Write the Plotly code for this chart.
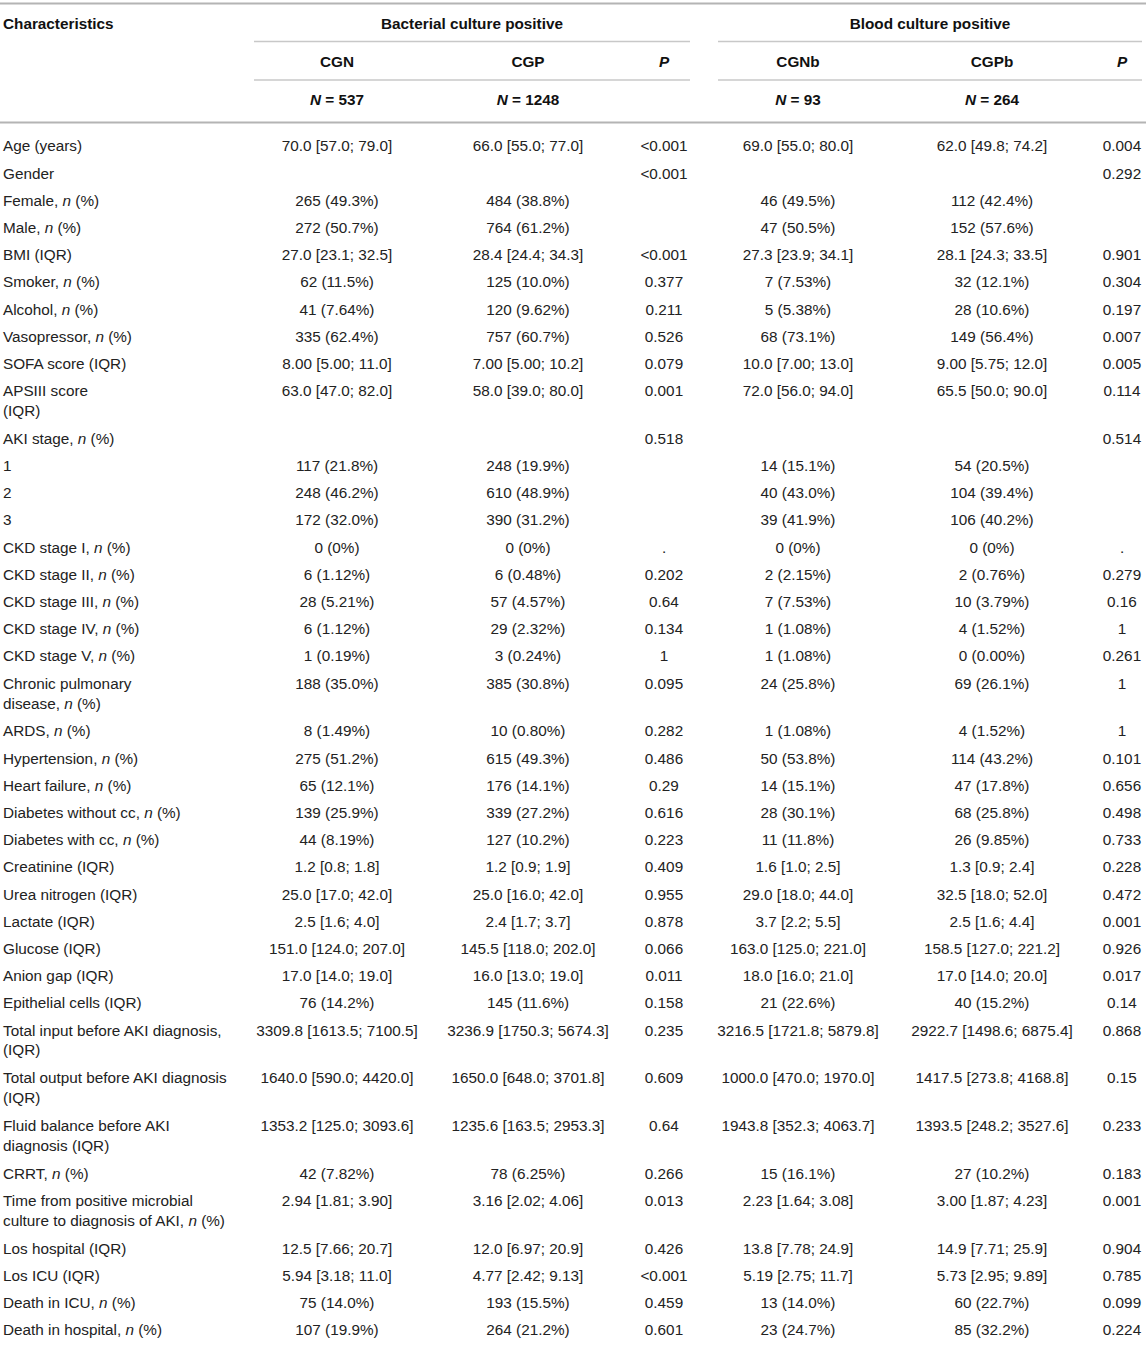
import plotly.graph_objects as go

# ---- table content -------------------------------------------------------
groups = ["Bacterial culture positive", "Blood culture positive"]
columns = ["CGN", "CGP", "<i>P</i>", "CGNb", "CGPb", "<i>P</i>"]
group_n = ["537", "1248", "", "93", "264", ""]

labels = [
    "Age (years)", "Gender", "Female, <i>n</i> (%)", "Male, <i>n</i> (%)", "BMI (IQR)",
    "Smoker, <i>n</i> (%)", "Alcohol, <i>n</i> (%)", "Vasopressor, <i>n</i> (%)",
    "SOFA score (IQR)", "APSIII score<br>(IQR)", "AKI stage, <i>n</i> (%)", "1", "2", "3",
    "CKD stage I, <i>n</i> (%)", "CKD stage II, <i>n</i> (%)", "CKD stage III, <i>n</i> (%)",
    "CKD stage IV, <i>n</i> (%)", "CKD stage V, <i>n</i> (%)",
    "Chronic pulmonary<br>disease, <i>n</i> (%)", "ARDS, <i>n</i> (%)",
    "Hypertension, <i>n</i> (%)", "Heart failure, <i>n</i> (%)",
    "Diabetes without cc, <i>n</i> (%)", "Diabetes with cc, <i>n</i> (%)",
    "Creatinine (IQR)", "Urea nitrogen (IQR)", "Lactate (IQR)", "Glucose (IQR)",
    "Anion gap (IQR)", "Epithelial cells (IQR)",
    "Total input before AKI diagnosis,<br>(IQR)",
    "Total output before AKI diagnosis<br>(IQR)",
    "Fluid balance before AKI<br>diagnosis (IQR)", "CRRT, <i>n</i> (%)",
    "Time from positive microbial<br>culture to diagnosis of AKI, <i>n</i> (%)",
    "Los hospital (IQR)", "Los ICU (IQR)", "Death in ICU, <i>n</i> (%)",
    "Death in hospital, <i>n</i> (%)",
]

cgn = [
    "70.0 [57.0; 79.0]", "", "265 (49.3%)", "272 (50.7%)", "27.0 [23.1; 32.5]",
    "62 (11.5%)", "41 (7.64%)", "335 (62.4%)", "8.00 [5.00; 11.0]", "63.0 [47.0; 82.0]",
    "", "117 (21.8%)", "248 (46.2%)", "172 (32.0%)", "0 (0%)", "6 (1.12%)", "28 (5.21%)",
    "6 (1.12%)", "1 (0.19%)", "188 (35.0%)", "8 (1.49%)", "275 (51.2%)", "65 (12.1%)",
    "139 (25.9%)", "44 (8.19%)", "1.2 [0.8; 1.8]", "25.0 [17.0; 42.0]", "2.5 [1.6; 4.0]",
    "151.0 [124.0; 207.0]", "17.0 [14.0; 19.0]", "76 (14.2%)", "3309.8 [1613.5; 7100.5]",
    "1640.0 [590.0; 4420.0]", "1353.2 [125.0; 3093.6]", "42 (7.82%)", "2.94 [1.81; 3.90]",
    "12.5 [7.66; 20.7]", "5.94 [3.18; 11.0]", "75 (14.0%)", "107 (19.9%)",
]

cgp = [
    "66.0 [55.0; 77.0]", "", "484 (38.8%)", "764 (61.2%)", "28.4 [24.4; 34.3]",
    "125 (10.0%)", "120 (9.62%)", "757 (60.7%)", "7.00 [5.00; 10.2]", "58.0 [39.0; 80.0]",
    "", "248 (19.9%)", "610 (48.9%)", "390 (31.2%)", "0 (0%)", "6 (0.48%)", "57 (4.57%)",
    "29 (2.32%)", "3 (0.24%)", "385 (30.8%)", "10 (0.80%)", "615 (49.3%)", "176 (14.1%)",
    "339 (27.2%)", "127 (10.2%)", "1.2 [0.9; 1.9]", "25.0 [16.0; 42.0]", "2.4 [1.7; 3.7]",
    "145.5 [118.0; 202.0]", "16.0 [13.0; 19.0]", "145 (11.6%)", "3236.9 [1750.3; 5674.3]",
    "1650.0 [648.0; 3701.8]", "1235.6 [163.5; 2953.3]", "78 (6.25%)", "3.16 [2.02; 4.06]",
    "12.0 [6.97; 20.9]", "4.77 [2.42; 9.13]", "193 (15.5%)", "264 (21.2%)",
]

p_bact = [
    "<0.001", "<0.001", "", "", "<0.001", "0.377", "0.211", "0.526", "0.079", "0.001",
    "0.518", "", "", "", ".", "0.202", "0.64", "0.134", "1", "0.095", "0.282", "0.486",
    "0.29", "0.616", "0.223", "0.409", "0.955", "0.878", "0.066", "0.011", "0.158",
    "0.235", "0.609", "0.64", "0.266", "0.013", "0.426", "<0.001", "0.459", "0.601",
]

cgnb = [
    "69.0 [55.0; 80.0]", "", "46 (49.5%)", "47 (50.5%)", "27.3 [23.9; 34.1]",
    "7 (7.53%)", "5 (5.38%)", "68 (73.1%)", "10.0 [7.00; 13.0]", "72.0 [56.0; 94.0]",
    "", "14 (15.1%)", "40 (43.0%)", "39 (41.9%)", "0 (0%)", "2 (2.15%)", "7 (7.53%)",
    "1 (1.08%)", "1 (1.08%)", "24 (25.8%)", "1 (1.08%)", "50 (53.8%)", "14 (15.1%)",
    "28 (30.1%)", "11 (11.8%)", "1.6 [1.0; 2.5]", "29.0 [18.0; 44.0]", "3.7 [2.2; 5.5]",
    "163.0 [125.0; 221.0]", "18.0 [16.0; 21.0]", "21 (22.6%)", "3216.5 [1721.8; 5879.8]",
    "1000.0 [470.0; 1970.0]", "1943.8 [352.3; 4063.7]", "15 (16.1%)", "2.23 [1.64; 3.08]",
    "13.8 [7.78; 24.9]", "5.19 [2.75; 11.7]", "13 (14.0%)", "23 (24.7%)",
]

cgpb = [
    "62.0 [49.8; 74.2]", "", "112 (42.4%)", "152 (57.6%)", "28.1 [24.3; 33.5]",
    "32 (12.1%)", "28 (10.6%)", "149 (56.4%)", "9.00 [5.75; 12.0]", "65.5 [50.0; 90.0]",
    "", "54 (20.5%)", "104 (39.4%)", "106 (40.2%)", "0 (0%)", "2 (0.76%)", "10 (3.79%)",
    "4 (1.52%)", "0 (0.00%)", "69 (26.1%)", "4 (1.52%)", "114 (43.2%)", "47 (17.8%)",
    "68 (25.8%)", "26 (9.85%)", "1.3 [0.9; 2.4]", "32.5 [18.0; 52.0]", "2.5 [1.6; 4.4]",
    "158.5 [127.0; 221.2]", "17.0 [14.0; 20.0]", "40 (15.2%)", "2922.7 [1498.6; 6875.4]",
    "1417.5 [273.8; 4168.8]", "1393.5 [248.2; 3527.6]", "27 (10.2%)", "3.00 [1.87; 4.23]",
    "14.9 [7.71; 25.9]", "5.73 [2.95; 9.89]", "60 (22.7%)", "85 (32.2%)",
]

p_blood = [
    "0.004", "0.292", "", "", "0.901", "0.304", "0.197", "0.007", "0.005", "0.114",
    "0.514", "", "", "", ".", "0.279", "0.16", "1", "0.261", "1", "1", "0.101", "0.656",
    "0.498", "0.733", "0.228", "0.472", "0.001", "0.926", "0.017", "0.14", "0.868",
    "0.15", "0.233", "0.183", "0.001", "0.904", "0.785", "0.099", "0.224",
]

body = [cgn, cgp, p_bact, cgnb, cgpb, p_blood]
for col in body:
    assert len(col) == len(labels)

# ---- layout geometry (pixels, y grows downward) ---------------------------
W, H = 1146, 1352
FONT = "Liberation Sans, Arial, Helvetica, sans-serif"
SIZE = 15.3
TXT = "#222222"
LINE_H = 1.3 * SIZE    # plotly <br> line spacing
ROW_H = 27.2           # one-line row pitch
ROW_EXTRA = 20.5       # extra pitch per additional line
Y_ADJ = 2.5            # plotly "middle" text sits a little high

col_x = [337, 528, 664, 798, 992, 1122]
group_x = [472, 930]
group_span = [(254, 690), (718, 1142)]
label_x = 3

y_head, y_sub, y_n, y_first = 23, 61, 99, 145

row_y = []
cur = y_first + Y_ADJ
for lab in labels:
    row_y.append(cur)
    cur += ROW_H + ROW_EXTRA * lab.count("<br>")


def esc(s):
    return s.replace("<0", "&lt;0")


fig = go.Figure()

# row labels (multi-line labels are centred on their block)
fig.add_trace(go.Scatter(
    x=[label_x] * len(labels),
    y=[y + LINE_H * lab.count("<br>") / 2 for y, lab in zip(row_y, labels)],
    text=labels, mode="text", textposition="middle right",
    textfont=dict(family=FONT, size=SIZE, color=TXT), hoverinfo="skip",
))

# body cells
for x, col in zip(col_x, body):
    fig.add_trace(go.Scatter(
        x=[x] * len(col), y=row_y, text=[esc(v) for v in col],
        mode="text", textposition="middle center",
        textfont=dict(family=FONT, size=SIZE, color=TXT), hoverinfo="skip",
    ))

# headers
bold = dict(family=FONT, size=SIZE, color="#111111")
fig.add_trace(go.Scatter(
    x=[label_x], y=[y_head + Y_ADJ], text=["<b>Characteristics</b>"], mode="text",
    textposition="middle right", textfont=bold, hoverinfo="skip",
))
fig.add_trace(go.Scatter(
    x=group_x, y=[y_head + Y_ADJ] * 2, text=[f"<b>{g}</b>" for g in groups], mode="text",
    textposition="middle center", textfont=bold, hoverinfo="skip",
))
fig.add_trace(go.Scatter(
    x=col_x, y=[y_sub + Y_ADJ] * len(columns), text=[f"<b>{c}</b>" for c in columns],
    mode="text", textposition="middle center", textfont=bold, hoverinfo="skip",
))
fig.add_trace(go.Scatter(
    x=col_x, y=[y_n + Y_ADJ] * len(group_n),
    text=[f"<b><i>N</i> = {n}</b>" if n else "" for n in group_n],
    mode="text", textposition="middle center", textfont=bold, hoverinfo="skip",
))

# rules
shapes = [
    dict(type="line", x0=0, x1=W, y0=3.5, y1=3.5, line=dict(color="#b4b4b4", width=2)),
    dict(type="line", x0=0, x1=W, y0=122.5, y1=122.5, line=dict(color="#b4b4b4", width=2)),
]
for x0, x1 in group_span:
    for yy in (41.5, 80):
        shapes.append(dict(type="line", x0=x0, x1=x1, y0=yy, y1=yy,
                           line=dict(color="#c8c8c8", width=1.5)))

fig.update_layout(
    width=W, height=H, margin=dict(l=0, r=0, t=0, b=0),
    paper_bgcolor="white", plot_bgcolor="white", showlegend=False,
    xaxis=dict(range=[0, W], visible=False, fixedrange=True),
    yaxis=dict(range=[H, 0], visible=False, fixedrange=True),
    shapes=shapes,
)

# drop the browser's default 8px body margin so the table sits at the page corner
fig.write_html(
    "out.html",
    config=dict(displayModeBar=False),
    post_script="document.body.style.margin='0px';document.body.style.overflow='hidden';",
)
